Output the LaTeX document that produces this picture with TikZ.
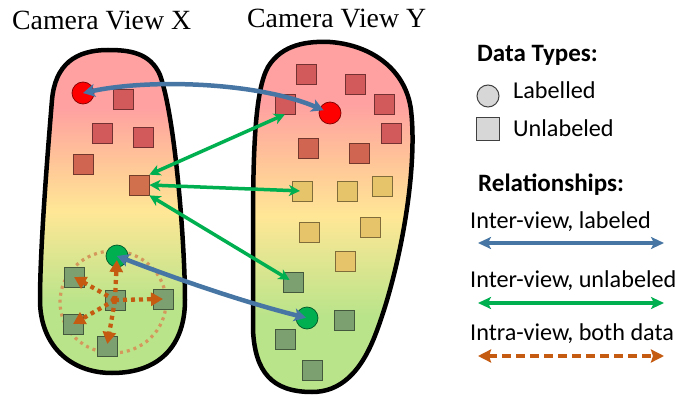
\documentclass[tikz,border=0pt]{standalone}
\usepackage{fontspec}
\setmainfont{Liberation Serif}
\newfontfamily\legendfont{Carlito}
\usetikzlibrary{arrows.meta,shadows}

% blob fill
\definecolor{fillPink}{RGB}{255,161,161}
\definecolor{fillPeach}{RGB}{255,196,152}
\definecolor{fillYellow}{RGB}{255,231,150}
\definecolor{fillGreen}{RGB}{186,228,138}
% samples
\definecolor{sqRed}{RGB}{210,90,90}
\definecolor{sqRust}{RGB}{208,102,82}
\definecolor{sqOrange}{RGB}{208,112,76}
\definecolor{sqYellow}{RGB}{230,196,106}
\definecolor{sqGreen}{RGB}{124,160,112}
\definecolor{ptRed}{RGB}{255,0,0}
\definecolor{ptGreen}{RGB}{0,176,80}
\definecolor{legGray}{RGB}{215,215,215}
% relations
\definecolor{relBlue}{RGB}{72,118,164}
\definecolor{relGreen}{RGB}{0,176,80}
\definecolor{relOrange}{RGB}{197,90,17}
\definecolor{ringTan}{RGB}{212,152,92}

\pgfdeclareverticalshading{viewfill}{100bp}{color(0bp)=(fillGreen); color(36bp)=(fillGreen); color(50bp)=(fillYellow); color(58bp)=(fillPeach); color(66bp)=(fillPink); color(100bp)=(fillPink)}

\begin{document}
\begin{tikzpicture}[x=1pt,y=-1pt,
  viewtitle/.style={font=\fontsize{27.8}{30}\selectfont, inner sep=0pt, anchor=base west},
  legendhead/.style={font=\legendfont\bfseries\fontsize{25}{28}\selectfont, inner sep=0pt, anchor=base west},
  legendtext/.style={font=\legendfont\fontsize{24.2}{27}\selectfont, inner sep=0pt, anchor=base west},
  blob/.style={line width=4.5pt, draw=black, shading=viewfill},
  sample/.style={rectangle, minimum size=20pt, inner sep=0pt, fill=#1, draw=#1!55!black, line width=0.7pt,
    drop shadow={opacity=0.3, shadow xshift=1.3pt, shadow yshift=-1.3pt}},
  point/.style={circle, minimum size=22pt, inner sep=0pt, fill=#1, draw=#1!50!black, line width=0.7pt},
  bluerel/.style={draw=relBlue, line width=4.5pt,
    {Stealth[length=12pt,width=13pt,inset=3pt]}-{Stealth[length=12pt,width=13pt,inset=3pt]}},
  greenrel/.style={draw=relGreen, line width=3.5pt,
    {Stealth[length=11pt,width=11pt,inset=3pt]}-{Stealth[length=11pt,width=11pt,inset=3pt]}},
  intrarel/.style={draw=relOrange, line width=4.3pt, dash pattern=on 4pt off 4pt,
    -{Triangle[length=12pt,width=13pt]}},
]
\useasboundingbox (0,0) rectangle (675,401);

% titles
\node[viewtitle] (titleX) at (12,30) {Camera View X};
\node[viewtitle] (titleY) at (247,28) {Camera View Y};

% camera view X region
\path[blob] (40,300) .. controls (40,345) and (70,373) .. (112,373)
  .. controls (160,373) and (185,345) .. (185,300)
  .. controls (185,250) and (176,120) .. (160,75)
  .. controls (150,52) and (128,50) .. (108,50)
  .. controls (75,50) and (55,65) .. (52,100)
  .. controls (47,160) and (40,250) .. (40,300) -- cycle;

% camera view Y region
\path[blob] (253,230) .. controls (253,150) and (255,90) .. (268,67)
  .. controls (282,44) and (308,41) .. (330,42)
  .. controls (372,45) and (406,70) .. (411,110)
  .. controls (418,170) and (400,270) .. (376,333)
  .. controls (361,373) and (340,392) .. (312,392)
  .. controls (272,392) and (255,372) .. (253,330) -- cycle;

% neighbourhood ring in view X
\draw[ringTan, line width=3.2pt, dash pattern=on 3pt off 4pt] (113,302) ellipse [x radius=53pt, y radius=51pt];

% view X samples
\node[sample=sqRed] (x1) at (123,99) {};
\node[sample=sqRed] (x2) at (102,133) {};
\node[sample=sqRed] (x3) at (143,137) {};
\node[sample=sqRust] (x4) at (83,164) {};
\node[sample=sqOrange] (x5) at (139,185) {};
\node[sample=sqGreen] (xg1) at (74,277) {};
\node[sample=sqGreen] (xg2) at (115,300) {};
\node[sample=sqGreen] (xg3) at (163,299) {};
\node[sample=sqGreen] (xg4) at (73,324) {};
\node[sample=sqGreen] (xg5) at (107,346) {};
\node[point=ptRed] (xr) at (83,93) {};
\node[point=ptGreen] (xg) at (117,256) {};

% view Y samples
\node[sample=sqRed] (y1) at (306,74) {};
\node[sample=sqRed] (y2) at (355,84) {};
\node[sample=sqRed] (y3) at (285,104) {};
\node[sample=sqRed] (y4) at (384,104) {};
\node[sample=sqRed] (y5) at (391,133) {};
\node[sample=sqRust] (y6) at (308,148) {};
\node[sample=sqRust] (y7) at (359,153) {};
\node[sample=sqYellow] (y8) at (302,191) {};
\node[sample=sqYellow] (y9) at (347,191) {};
\node[sample=sqYellow] (y10) at (382,186) {};
\node[sample=sqYellow] (y11) at (309,232) {};
\node[sample=sqYellow] (y12) at (370,227) {};
\node[sample=sqYellow] (y13) at (345,261) {};
\node[sample=sqGreen] (yg1) at (293,282) {};
\node[sample=sqGreen] (yg2) at (344,320) {};
\node[sample=sqGreen] (yg3) at (285,339) {};
\node[sample=sqGreen] (yg4) at (312,370) {};
\node[point=ptRed] (yr) at (330,113) {};
\node[point=ptGreen] (yg) at (307,318) {};

% intra-view links around the central sample
\draw[intrarel, shorten >=4pt] (xg2.center) -- (xg.center);
\draw[intrarel] (xg2.center) -- (xg1.center);
\draw[intrarel] (xg2.center) -- (xg3.center);
\draw[intrarel] (xg2.center) -- (xg4.center);
\draw[intrarel, shorten >=2pt] (xg2.center) -- (xg5.center);

% inter-view links
\draw[bluerel, shorten >=7pt] (xr.center) .. controls +(70,-15) and +(-70,-30) .. (yr.center);
\draw[bluerel, shorten >=1pt] (xg.center) .. controls +(65,25) and +(-60,-15) .. (yg.center);
\draw[greenrel] (x5.north east) -- (y3.south);
\draw[greenrel, shorten >=2pt] (x5.east) -- (y8.center);
\draw[greenrel, shorten >=4pt] (x5.south east) -- (yg1.center);

% legend
\node[legendhead] (hdTypes) at (477,62) {Data Types:};
\node[circle, minimum size=22pt, inner sep=0pt, fill=legGray, draw=black!75, line width=1pt] (legCirc) at (488,96) {};
\node[legendtext] (txtLab) at (513,99) {Labelled};
\node[rectangle, minimum size=23pt, inner sep=0pt, fill=legGray, draw=black!75, line width=1pt] (legSq) at (488,129) {};
\node[legendtext] (txtUnl) at (513,137) {Unlabeled};

\node[legendhead] (hdRel) at (478,192) {Relationships:};
\node[legendtext] (txtInterL) at (470,229) {Inter-view, labeled};
\coordinate (a1) at (478,243); \coordinate (b1) at (664,243);
\draw[draw=relBlue, line width=3.5pt, {Stealth[length=13pt,width=12pt,inset=3pt]}-{Stealth[length=13pt,width=12pt,inset=3pt]}] (a1) -- (b1);

\node[legendtext] (txtInterU) at (470,287) {Inter-view, unlabeled};
\coordinate (a2) at (478,303); \coordinate (b2) at (664,303);
\draw[draw=relGreen, line width=3.5pt, {Stealth[length=13pt,width=12pt,inset=3pt]}-{Stealth[length=13pt,width=12pt,inset=3pt]}] (a2) -- (b2);

\node[legendtext] (txtIntra) at (470,340) {Intra-view, both data};
\coordinate (a3) at (478,356); \coordinate (b3) at (664,356);
\draw[draw=relOrange, line width=4pt, dash pattern=on 9pt off 5pt, {Stealth[length=13pt,width=13pt,inset=2pt]}-{Stealth[length=13pt,width=13pt,inset=2pt]}] (a3) -- (b3);
\end{tikzpicture}
\end{document}
